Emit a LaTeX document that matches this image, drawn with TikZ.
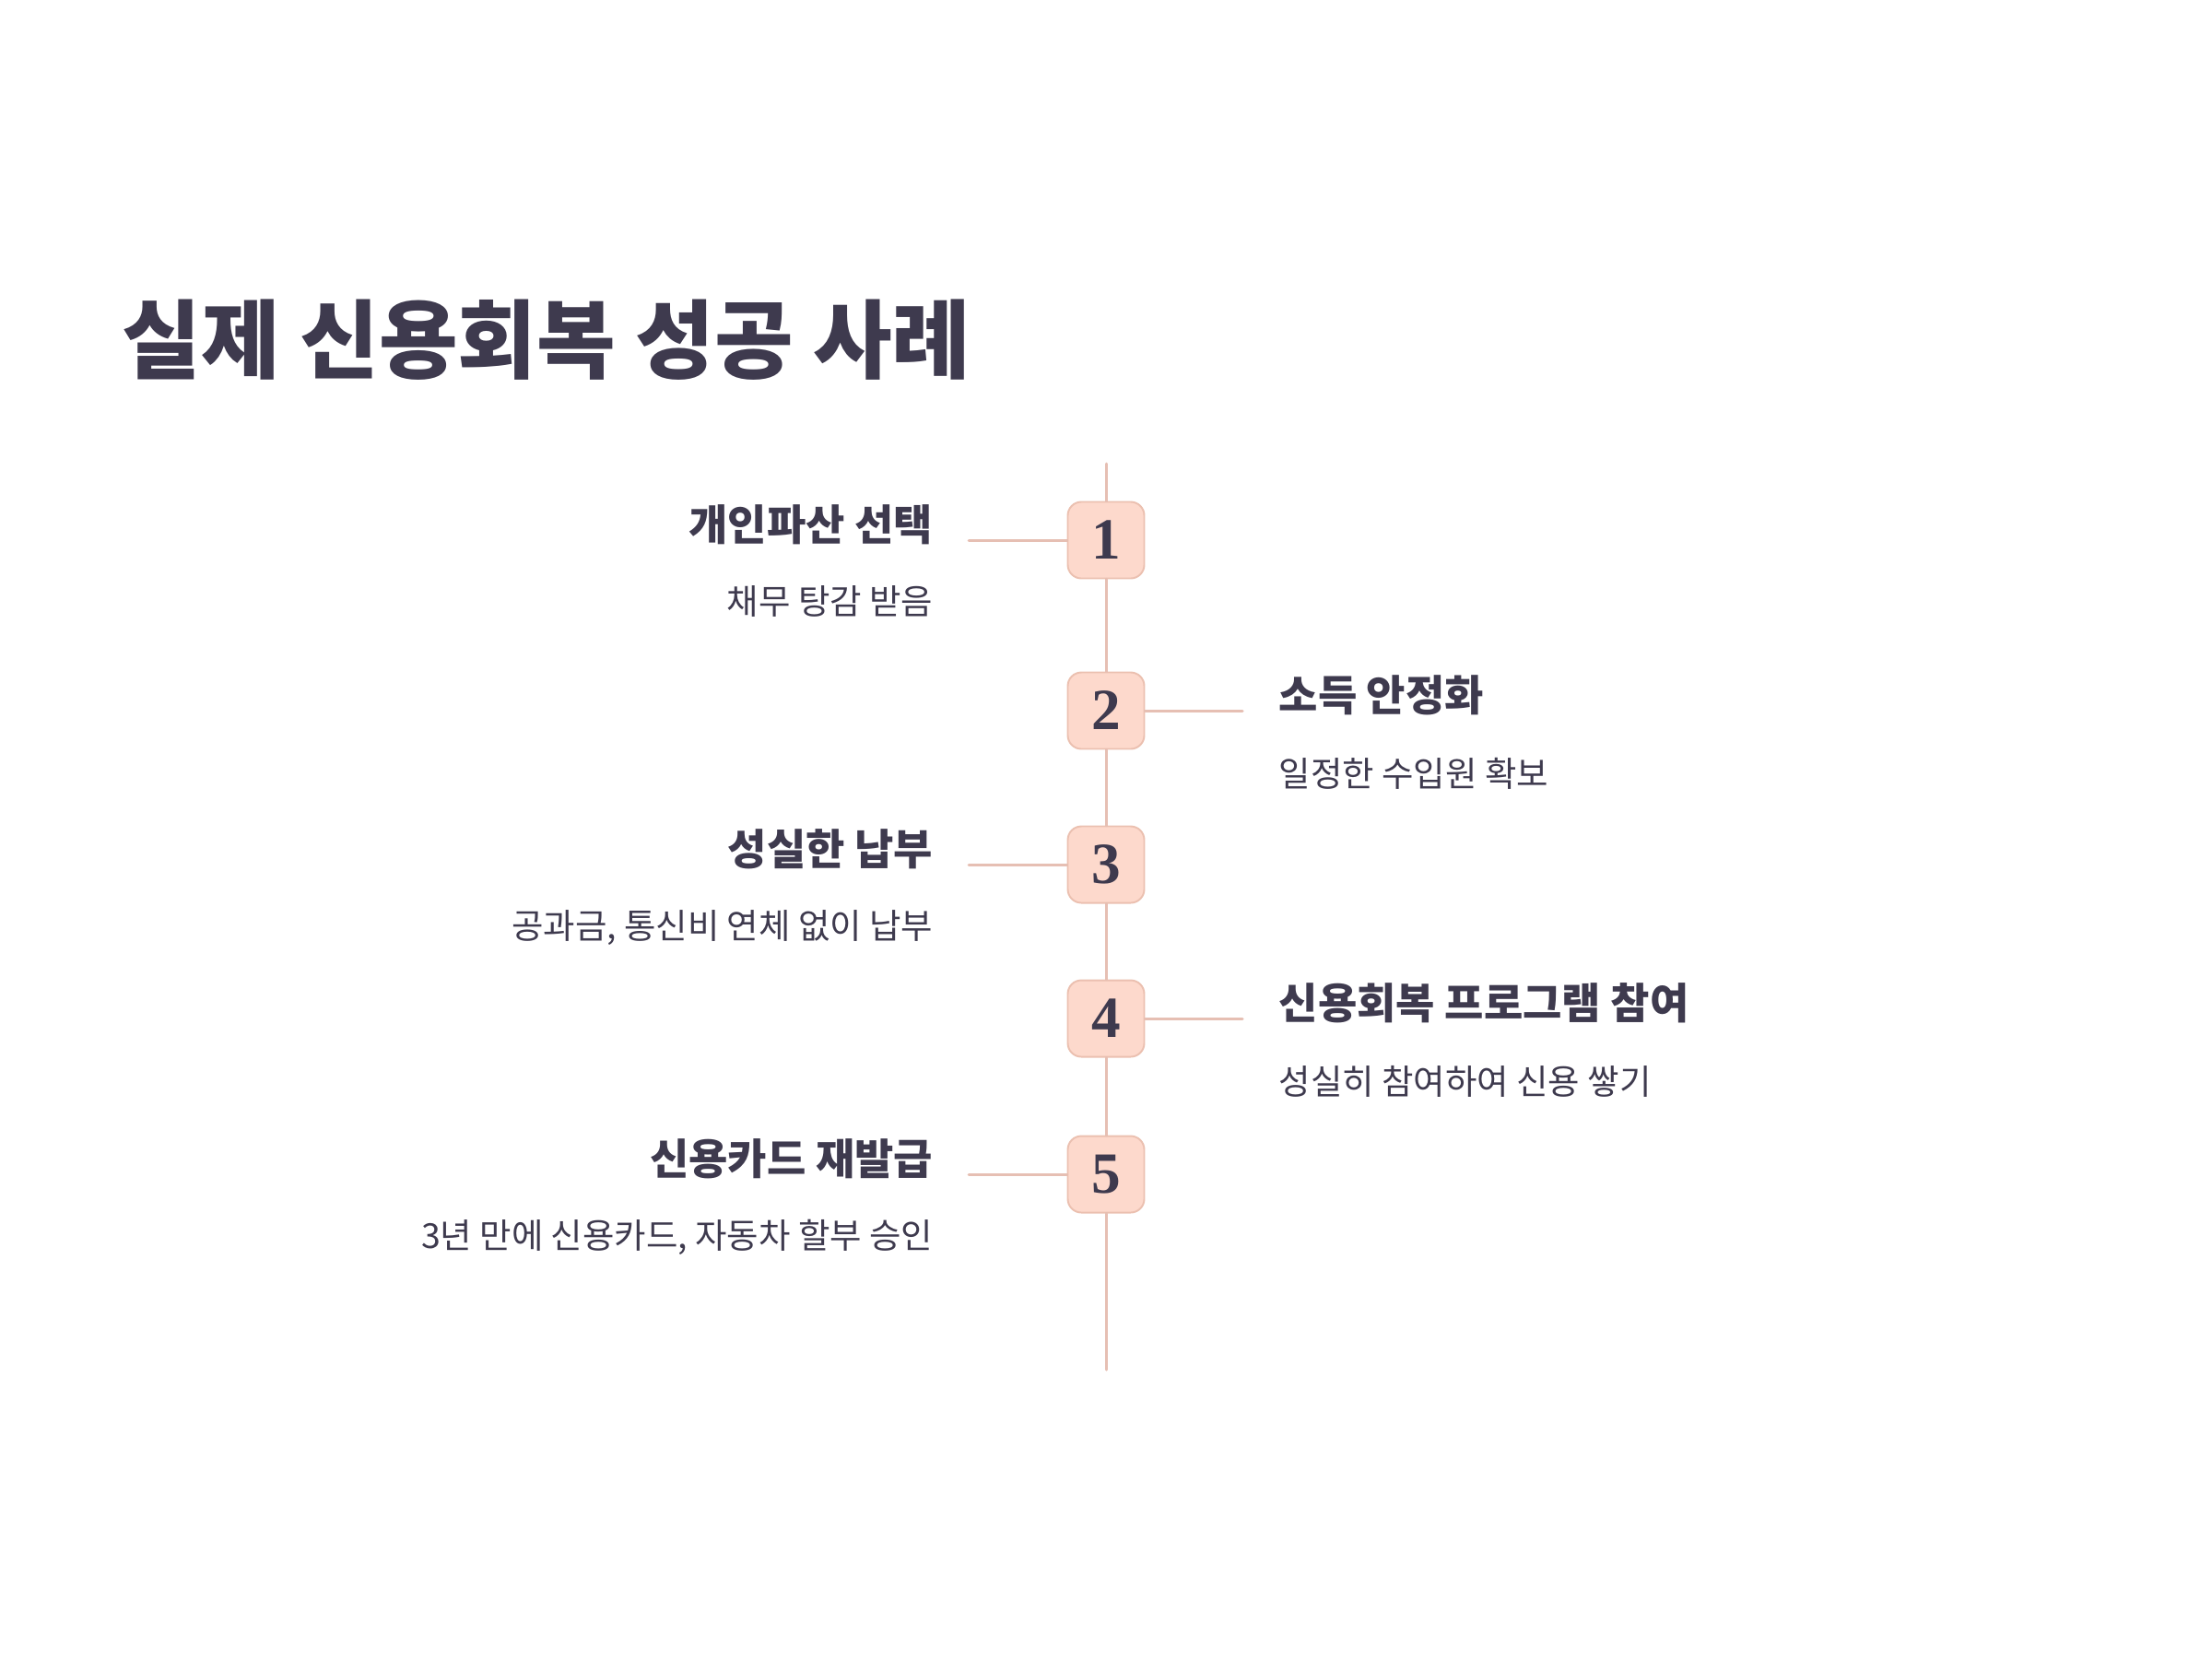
\documentclass[tikz,border=0pt]{standalone}
\usepackage{fontspec}
\setmainfont{Noto Sans CJK KR}
\newfontfamily\numfont{Liberation Serif}
\usetikzlibrary{positioning}
\definecolor{ink}{RGB}{62,58,78}
\definecolor{peach}{RGB}{253,217,204}
\definecolor{peachedge}{RGB}{235,192,176}
\definecolor{stem}{RGB}{230,191,179}
\tikzset{
  stemln/.style={draw=stem,line width=0.85pt,line cap=round},
  numbox/.style={rectangle,rounded corners=4.2pt,fill=peach,draw=peachedge,line width=0.55pt,
    minimum size=0.83cm,inner sep=0pt,text=ink,font=\numfont\bfseries\fontsize{18}{18}\selectfont},
  stephead/.style={text=ink,inner sep=0pt,font=\bfseries\fontsize{13.1}{15}\selectfont},
  stepnote/.style={text=ink,inner sep=0pt,font=\fontsize{10.65}{12}\selectfont},
  pagetitle/.style={text=ink,inner sep=0pt,font=\bfseries\fontsize{26.5}{30}\selectfont},
}
\begin{document}
\begin{tikzpicture}
  \useasboundingbox (0,0) rectangle (24,-18);
  \node[pagetitle,anchor=base west] (title) at (1.32,-4.03) {실제 신용회복 성공 사례};

  % timeline boxes
  \node[numbox] (n1) at (12,-5.86) {1};
  \node[numbox] (n2) at (12,-7.71) {2};
  \node[numbox] (n3) at (12,-9.38) {3};
  \node[numbox] (n4) at (12,-11.05) {4};
  \node[numbox] (n5) at (12,-12.74) {5};
  \coordinate (top) at (12,-5.03);
  \coordinate (bot) at (12,-14.86);
  \draw[stemln] (top) -- (n1);
  \foreach \a/\b in {n1/n2,n2/n3,n3/n4,n4/n5} \draw[stemln] (\a) -- (\b);
  \draw[stemln] (n5) -- (bot);

  % branches
  \coordinate (e1) at (10.51,-5.86);
  \coordinate (e2) at (13.48,-7.71);
  \coordinate (e3) at (10.51,-9.38);
  \coordinate (e4) at (13.48,-11.05);
  \coordinate (e5) at (10.51,-12.74);
  \foreach \i in {1,...,5} \draw[stemln] (e\i) -- (n\i);

  % left side texts
  \node[stephead,anchor=base east] (t1) at (10.13,-5.86) {개인파산 선택};
  \node[stepnote,anchor=base east] (d1) at (10.13,-6.66) {채무 탕감 받음};
  \node[stephead,anchor=base east] (t3) at (10.13,-9.38) {성실한 납부};
  \node[stepnote,anchor=base east] (d3) at (10.13,-10.18) {공과금, 통신비 연체 없이 납부};
  \node[stephead,anchor=base east] (t5) at (10.13,-12.74) {신용카드 재발급};
  \node[stepnote,anchor=base east] (d5) at (10.13,-13.54) {3년 만에 신용카드, 자동차 할부 승인};

  % right side texts
  \node[stephead,anchor=base west] (t2) at (13.87,-7.71) {소득 안정화};
  \node[stepnote,anchor=base west] (d2) at (13.87,-8.53) {일정한 수입원 확보};
  \node[stephead,anchor=base west] (t4) at (13.87,-11.05) {신용회복 프로그램 참여};
  \node[stepnote,anchor=base west] (d4) at (13.87,-11.87) {성실히 참여하여 신용 쌓기};
\end{tikzpicture}
\end{document}
